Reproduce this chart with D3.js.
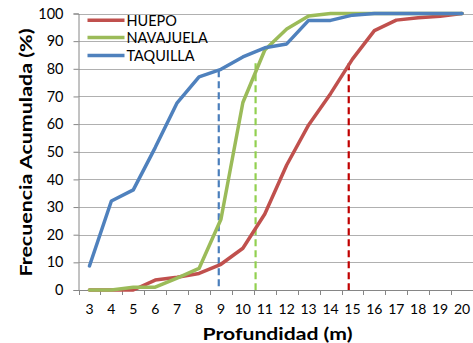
<!DOCTYPE html>
<html><head><meta charset="utf-8">
<script src="https://cdn.jsdelivr.net/npm/d3@7"></script>
<style>
html,body{margin:0;padding:0;background:#fff;}
svg{display:block;}
text{font-family:Lato,"Open Sans",sans-serif;fill:#000;}
</style></head>
<body><svg id="c" width="473" height="343"></svg>
<script>
const depths = [3,4,5,6,7,8,9,10,11,12,13,14,15,16,17,18,19,20];
const huepo     = [0,0,0,3.6,4.6,6.0,9.3,15.1,27.5,45.2,59.7,71,83.5,93.8,97.6,98.5,99,100];
const navajuela = [0,0,1,1,4.3,7.8,25.6,67.8,86.8,94.4,99.1,100,100,100,100,100,100,100];
const taquilla  = [8.7,32.2,36.2,51.5,67.7,77.1,79.8,84.3,87.6,89,97.5,97.5,99.4,100,100,100,100,100];
const seriesNames = ["HUEPO","NAVAJUELA","TAQUILLA"];
const seriesColors = ["#C0504D","#9BBB59","#4F81BD"];
const refDepths = [8.9,10.58,14.83];
const refLevels = [79.5,82,82];
const refColors = ["#4A7EBB","#92D050","#C00000"];
const yTicks = [0,10,20,30,40,50,60,70,80,90,100];

(function(){
const svg = d3.select("#c");
const pL = 78.5, pR = 473, pT = 13.5, pB = 290;

const xBand = d3.scaleBand().domain(depths).range([pL, pR]).padding(0);
const xPt = d3.scalePoint().domain(depths).range([pL, pR]).padding(0.5);
const xLin = d3.scaleLinear().domain([3,20]).range([xPt(3), xPt(20)]);
const y = d3.scaleLinear().domain([0,100]).range([pB, pT]);

// gridlines
svg.append("g").selectAll("line").data(yTicks.filter(d=>d>0)).join("line")
  .attr("x1", pL).attr("x2", pR)
  .attr("y1", d=>Math.round(y(d))+0.5).attr("y2", d=>Math.round(y(d))+0.5)
  .attr("stroke","#B0B0B0").attr("stroke-width",1);

// y axis
const yAxis = d3.axisLeft(y).tickValues(yTicks).tickSize(5).tickPadding(10);
const gy = svg.append("g").attr("transform",`translate(${pL},0)`).call(yAxis);
gy.select(".domain").attr("stroke","#868686");
gy.selectAll(".tick line").attr("stroke","#868686");
gy.selectAll(".tick text").style("font-size","14.5px").style("font-family","Lato").attr("fill","#000");

// x axis
const xAxis = d3.axisBottom(xBand).tickSize(0).tickPadding(14);
const gx = svg.append("g").attr("transform",`translate(0,${pB})`).call(xAxis);
gx.select(".domain").attr("stroke","#868686");
gx.selectAll(".tick text").style("font-size","14px").style("font-family","Lato").attr("fill","#000");
gx.append("g").selectAll("line").data(depths).join("line")
  .attr("x1", d=>Math.round(xBand(d))+0.5).attr("x2", d=>Math.round(xBand(d))+0.5)
  .attr("y1",0).attr("y2",5).attr("stroke","#868686");

// reference dashed lines
svg.append("g").selectAll("line").data(refDepths).join("line")
  .attr("x1",(d)=>xLin(d)).attr("x2",(d)=>xLin(d))
  .attr("y1",(d,i)=>y(refLevels[i])).attr("y2",y(0))
  .attr("stroke",(d,i)=>refColors[i]).attr("stroke-width",2.2)
  .attr("stroke-dasharray","7,4");

// series lines
const allSeries = [huepo, navajuela, taquilla];
const line = d3.line().x((d,i)=>xPt(depths[i])).y(d=>y(d));
svg.append("g").selectAll("path").data(allSeries).join("path")
  .attr("d", line).attr("fill","none")
  .attr("stroke",(d,i)=>seriesColors[i]).attr("stroke-width",3.5)
  .attr("stroke-linejoin","round").attr("stroke-linecap","round");

// legend
const legY = [20.3, 37.6, 55.6];
const lg = svg.append("g");
seriesNames.forEach((n,i)=>{
  lg.append("line").attr("x1",87.5).attr("x2",124.5).attr("y1",legY[i]).attr("y2",legY[i])
    .attr("stroke",seriesColors[i]).attr("stroke-width",3.5);
  lg.append("text").attr("x",126.5).attr("y",legY[i]).attr("dy","0.36em")
    .style("font-size","14.5px").text(n);
});

// axis titles
svg.append("text").attr("x",277.5).attr("y",339.5)
  .attr("text-anchor","middle").style("font-size","17px").style("font-weight","bold")
  .attr("textLength",150).attr("lengthAdjust","spacingAndGlyphs")
  .text("Profundidad (m)");
svg.append("text").attr("transform","translate(32,152.5) rotate(-90)")
  .attr("text-anchor","middle").style("font-size","17.5px").style("font-weight","bold")
  .attr("textLength",248).attr("lengthAdjust","spacingAndGlyphs")
  .text("Frecuencia Acumulada (%)");
})();
</script></body></html>
